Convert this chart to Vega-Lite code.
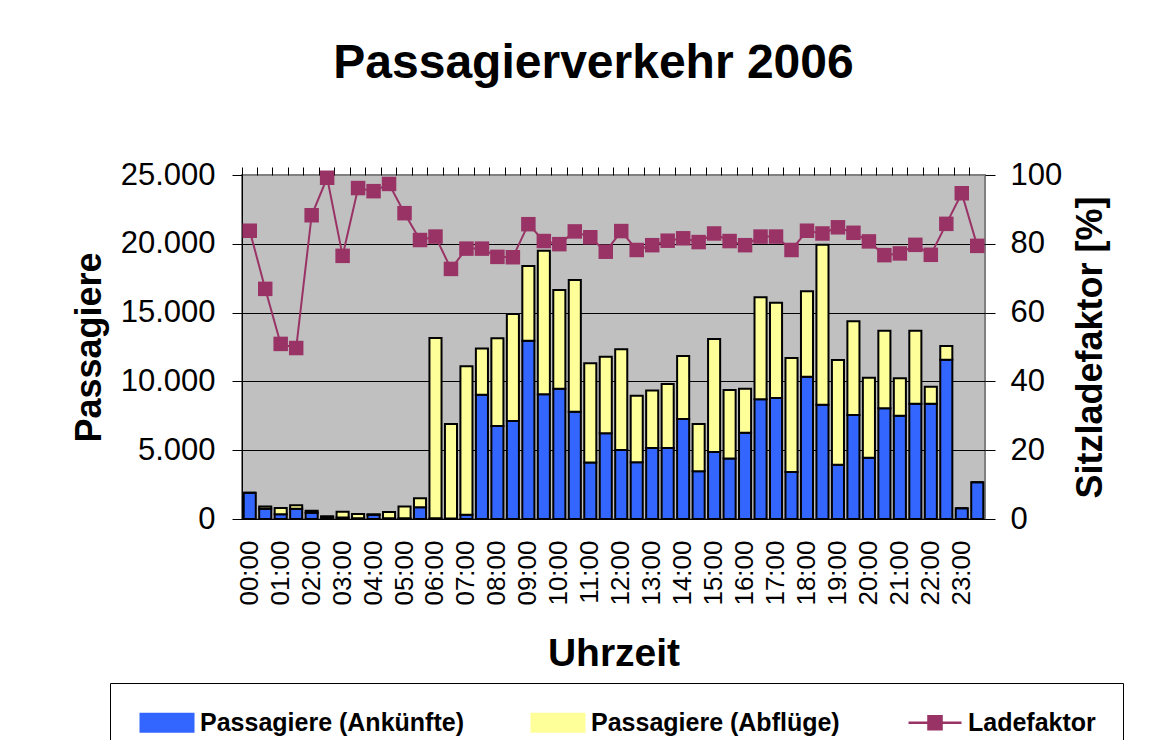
{
  "$schema": "https://vega.github.io/schema/vega-lite/v6.json",
  "width": 743,
  "height": 344,
  "autosize": "none",
  "padding": {"left": 242, "top": 175, "right": 170, "bottom": 221},
  "background": "white",
  "config": {
    "font": "Liberation Sans",
    "view": {"fill": "#C0C0C0", "stroke": "#808080", "strokeWidth": 2},
    "axis": {"labelFont": "Liberation Sans", "titleFont": "Liberation Sans", "labelColor": "black", "titleColor": "black", "tickColor": "black", "domainColor": "black"},
    "legend": {"labelLimit": 500}
  },
  "title": {"text": "Passagierverkehr 2006", "fontSize": 48, "font": "Liberation Sans", "fontWeight": "bold", "anchor": "middle", "frame": "group", "offset": 71, "dx": -20, "color": "black"},
  "data": {"values": [
    {"zeit": "00:00", "Passagiere (Ankünfte)": 1900, "Passagiere (Abflüge)": 0, "Ladefaktor": 83.8},
    {"zeit": "00:30", "Passagiere (Ankünfte)": 750, "Passagiere (Abflüge)": 150, "Ladefaktor": 66.9},
    {"zeit": "01:00", "Passagiere (Ankünfte)": 350, "Passagiere (Abflüge)": 450, "Ladefaktor": 50.9},
    {"zeit": "01:30", "Passagiere (Ankünfte)": 750, "Passagiere (Abflüge)": 250, "Ladefaktor": 49.7},
    {"zeit": "02:00", "Passagiere (Ankünfte)": 450, "Passagiere (Abflüge)": 150, "Ladefaktor": 88.3},
    {"zeit": "02:30", "Passagiere (Ankünfte)": 150, "Passagiere (Abflüge)": 50, "Ladefaktor": 99.2},
    {"zeit": "03:00", "Passagiere (Ankünfte)": 100, "Passagiere (Abflüge)": 430, "Ladefaktor": 76.5},
    {"zeit": "03:30", "Passagiere (Ankünfte)": 50, "Passagiere (Abflüge)": 310, "Ladefaktor": 96.2},
    {"zeit": "04:00", "Passagiere (Ankünfte)": 300, "Passagiere (Abflüge)": 40, "Ladefaktor": 95.3},
    {"zeit": "04:30", "Passagiere (Ankünfte)": 50, "Passagiere (Abflüge)": 450, "Ladefaktor": 97.4},
    {"zeit": "05:00", "Passagiere (Ankünfte)": 50, "Passagiere (Abflüge)": 850, "Ladefaktor": 88.9},
    {"zeit": "05:30", "Passagiere (Ankünfte)": 850, "Passagiere (Abflüge)": 650, "Ladefaktor": 81.1},
    {"zeit": "06:00", "Passagiere (Ankünfte)": 50, "Passagiere (Abflüge)": 13100, "Ladefaktor": 82.1},
    {"zeit": "06:30", "Passagiere (Ankünfte)": 30, "Passagiere (Abflüge)": 6870, "Ladefaktor": 72.7},
    {"zeit": "07:00", "Passagiere (Ankünfte)": 300, "Passagiere (Abflüge)": 10800, "Ladefaktor": 78.6},
    {"zeit": "07:30", "Passagiere (Ankünfte)": 9030, "Passagiere (Abflüge)": 3370, "Ladefaktor": 78.6},
    {"zeit": "08:00", "Passagiere (Ankünfte)": 6760, "Passagiere (Abflüge)": 6370, "Ladefaktor": 76.2},
    {"zeit": "08:30", "Passagiere (Ankünfte)": 7120, "Passagiere (Abflüge)": 7780, "Ladefaktor": 76.1},
    {"zeit": "09:00", "Passagiere (Ankünfte)": 12960, "Passagiere (Abflüge)": 5430, "Ladefaktor": 85.7},
    {"zeit": "09:30", "Passagiere (Ankünfte)": 9060, "Passagiere (Abflüge)": 10440, "Ladefaktor": 80.8},
    {"zeit": "10:00", "Passagiere (Ankünfte)": 9470, "Passagiere (Abflüge)": 7170, "Ladefaktor": 79.9},
    {"zeit": "10:30", "Passagiere (Ankünfte)": 7800, "Passagiere (Abflüge)": 9570, "Ladefaktor": 83.6},
    {"zeit": "11:00", "Passagiere (Ankünfte)": 4100, "Passagiere (Abflüge)": 7210, "Ladefaktor": 81.9},
    {"zeit": "11:30", "Passagiere (Ankünfte)": 6230, "Passagiere (Abflüge)": 5570, "Ladefaktor": 77.7},
    {"zeit": "12:00", "Passagiere (Ankünfte)": 5010, "Passagiere (Abflüge)": 7320, "Ladefaktor": 83.7},
    {"zeit": "12:30", "Passagiere (Ankünfte)": 4120, "Passagiere (Abflüge)": 4840, "Ladefaktor": 78.2},
    {"zeit": "13:00", "Passagiere (Ankünfte)": 5160, "Passagiere (Abflüge)": 4170, "Ladefaktor": 79.6},
    {"zeit": "13:30", "Passagiere (Ankünfte)": 5160, "Passagiere (Abflüge)": 4650, "Ladefaktor": 80.9},
    {"zeit": "14:00", "Passagiere (Ankünfte)": 7270, "Passagiere (Abflüge)": 4580, "Ladefaktor": 81.6},
    {"zeit": "14:30", "Passagiere (Ankünfte)": 3470, "Passagiere (Abflüge)": 3430, "Ladefaktor": 80.5},
    {"zeit": "15:00", "Passagiere (Ankünfte)": 4870, "Passagiere (Abflüge)": 8210, "Ladefaktor": 83.0},
    {"zeit": "15:30", "Passagiere (Ankünfte)": 4390, "Passagiere (Abflüge)": 4980, "Ladefaktor": 80.8},
    {"zeit": "16:00", "Passagiere (Ankünfte)": 6270, "Passagiere (Abflüge)": 3200, "Ladefaktor": 79.6},
    {"zeit": "16:30", "Passagiere (Ankünfte)": 8700, "Passagiere (Abflüge)": 7410, "Ladefaktor": 82.1},
    {"zeit": "17:00", "Passagiere (Ankünfte)": 8790, "Passagiere (Abflüge)": 6930, "Ladefaktor": 82.1},
    {"zeit": "17:30", "Passagiere (Ankünfte)": 3420, "Passagiere (Abflüge)": 8280, "Ladefaktor": 78.2},
    {"zeit": "18:00", "Passagiere (Ankünfte)": 10340, "Passagiere (Abflüge)": 6210, "Ladefaktor": 83.8},
    {"zeit": "18:30", "Passagiere (Ankünfte)": 8310, "Passagiere (Abflüge)": 11630, "Ladefaktor": 83.0},
    {"zeit": "19:00", "Passagiere (Ankünfte)": 3950, "Passagiere (Abflüge)": 7600, "Ladefaktor": 84.8},
    {"zeit": "19:30", "Passagiere (Ankünfte)": 7560, "Passagiere (Abflüge)": 6810, "Ladefaktor": 83.2},
    {"zeit": "20:00", "Passagiere (Ankünfte)": 4460, "Passagiere (Abflüge)": 5810, "Ladefaktor": 80.7},
    {"zeit": "20:30", "Passagiere (Ankünfte)": 8040, "Passagiere (Abflüge)": 5650, "Ladefaktor": 76.7},
    {"zeit": "21:00", "Passagiere (Ankünfte)": 7510, "Passagiere (Abflüge)": 2710, "Ladefaktor": 77.2},
    {"zeit": "21:30", "Passagiere (Ankünfte)": 8380, "Passagiere (Abflüge)": 5310, "Ladefaktor": 79.7},
    {"zeit": "22:00", "Passagiere (Ankünfte)": 8380, "Passagiere (Abflüge)": 1240, "Ladefaktor": 76.8},
    {"zeit": "22:30", "Passagiere (Ankünfte)": 11580, "Passagiere (Abflüge)": 990, "Ladefaktor": 85.8},
    {"zeit": "23:00", "Passagiere (Ankünfte)": 780, "Passagiere (Abflüge)": 0, "Ladefaktor": 94.7},
    {"zeit": "23:30", "Passagiere (Ankünfte)": 2670, "Passagiere (Abflüge)": 0, "Ladefaktor": 79.4}
  ]},
  "layer": [
    {
      "transform": [{"fold": ["Passagiere (Ankünfte)", "Passagiere (Abflüge)"], "as": ["serie", "wert"]}],
      "mark": {"type": "bar", "stroke": "black", "strokeWidth": 2, "opacity": 1},
      "encoding": {
        "x": {
          "field": "zeit", "type": "ordinal", "sort": null,
          "scale": {"paddingInner": 0.22, "paddingOuter": 0.11},
          "axis": {
            "title": "Uhrzeit", "titleFontSize": 39, "titleFontWeight": "bold", "titlePadding": 29,
            "labelAngle": -90, "labelFontSize": 26, "labelPadding": 21, "labelOverlap": false,
            "labelExpr": "substring(datum.value, 3) == '00' ? datum.value : ''",
            "ticks": false, "domain": true, "domainColor": "black", "domainWidth": 1, "grid": false
          }
        },
        "y": {
          "field": "wert", "type": "quantitative", "stack": "zero",
          "scale": {"domain": [0, 25000], "nice": false},
          "axis": {
            "title": "Passagiere", "titleFontSize": 36, "titleFontWeight": "bold", "titlePadding": 12,
            "values": [0, 5000, 10000, 15000, 20000, 25000],
            "labelExpr": "replace(format(datum.value, ','), ',', '.')",
            "labelFontSize": 31, "labelPadding": 17, "tickSize": 10, "tickWidth": 1,
            "grid": true, "gridWidth": 1,
            "gridColor": {"condition": {"test": "datum.value == 25000", "value": "#808080"}, "value": "black"},
            "domain": true, "domainColor": "black"
          }
        },
        "color": {
          "field": "serie", "type": "nominal",
          "scale": {"domain": ["Passagiere (Ankünfte)", "Passagiere (Abflüge)", "Ladefaktor"], "range": ["#3366FF", "#FFFF99", "#993366"]},
          "legend": {
            "title": null, "orient": "none", "legendX": -132, "legendY": 508,
            "direction": "horizontal", "columns": 3, "columnPadding": 63,
            "padding": 27, "strokeColor": "black", "fillColor": "white",
            "labelFont": "Liberation Sans", "labelFontSize": 25, "labelFontWeight": "bold", "labelColor": "black", "labelLimit": 500,
            "symbolSize": 324, "labelOffset": 38,
            "encode": {
              "symbols": {
                "update": {
                  "shape": {"signal": "datum.value === 'Ladefaktor' ? 'M-1,0H4.89M1.22,-0.72H2.67V0.72H1.22Z' : 'M-1,-1H4.89V1H-1Z'"},
                  "fill": {"signal": "datum.value === 'Ladefaktor' ? '#993366' : (datum.value === 'Passagiere (Abflüge)' ? '#FFFF99' : '#3366FF')"},
                  "stroke": {"signal": "datum.value === 'Ladefaktor' ? '#993366' : 'black'"},
                  "strokeWidth": {"signal": "datum.value === 'Ladefaktor' ? 2.5 : 2"},
                  "opacity": {"value": 1},
                  "fillOpacity": {"value": 1},
                  "strokeOpacity": {"value": 1}
                }
              }
            }
          }
        },
        "order": {"field": "serie", "sort": "descending"}
      }
    },
    {
      "encoding": {
        "x": {
          "field": "zeit", "type": "ordinal", "sort": null,
          "scale": {"paddingInner": 0.22, "paddingOuter": 0.11},
          "axis": {"title": null, "labels": false, "ticks": true, "tickSize": 8, "tickColor": "black", "tickWidth": 1, "bandPosition": -0.141, "domain": false, "grid": false}
        },
        "y": {
          "field": "Ladefaktor", "type": "quantitative",
          "scale": {"domain": [0, 100], "nice": false},
          "axis": {
            "orient": "right", "title": "Sitzladefaktor [%]", "titleFontSize": 36, "titleFontWeight": "bold",
            "titleAngle": 270, "titleBaseline": "top", "titlePadding": 12,
            "values": [0, 20, 40, 60, 80, 100],
            "labelFontSize": 31, "labelPadding": 15, "tickSize": 10, "grid": false, "domain": false
          }
        },
        "color": {
          "datum": "Ladefaktor", "type": "nominal",
          "scale": {"domain": ["Passagiere (Ankünfte)", "Passagiere (Abflüge)", "Ladefaktor"], "range": ["#3366FF", "#FFFF99", "#993366"]},
          "legend": {
            "title": null, "orient": "none", "legendX": -132, "legendY": 508,
            "direction": "horizontal", "columns": 3, "columnPadding": 63,
            "padding": 27, "strokeColor": "black", "fillColor": "white",
            "labelFont": "Liberation Sans", "labelFontSize": 25, "labelFontWeight": "bold", "labelColor": "black", "labelLimit": 500,
            "symbolSize": 324, "labelOffset": 38,
            "encode": {
              "symbols": {
                "update": {
                  "shape": {"signal": "datum.value === 'Ladefaktor' ? 'M-1,0H4.89M1.22,-0.72H2.67V0.72H1.22Z' : 'M-1,-1H4.89V1H-1Z'"},
                  "fill": {"signal": "datum.value === 'Ladefaktor' ? '#993366' : (datum.value === 'Passagiere (Abflüge)' ? '#FFFF99' : '#3366FF')"},
                  "stroke": {"signal": "datum.value === 'Ladefaktor' ? '#993366' : 'black'"},
                  "strokeWidth": {"signal": "datum.value === 'Ladefaktor' ? 2.5 : 2"},
                  "opacity": {"value": 1},
                  "fillOpacity": {"value": 1},
                  "strokeOpacity": {"value": 1}
                }
              }
            }
          }
        }
      },
      "layer": [
        {"mark": {"type": "line", "strokeWidth": 2}},
        {"mark": {"type": "point", "shape": "square", "filled": true, "size": 210, "opacity": 1}}
      ]
    }
  ],
  "resolve": {"scale": {"y": "independent"}, "axis": {"x": "independent"}}
}
